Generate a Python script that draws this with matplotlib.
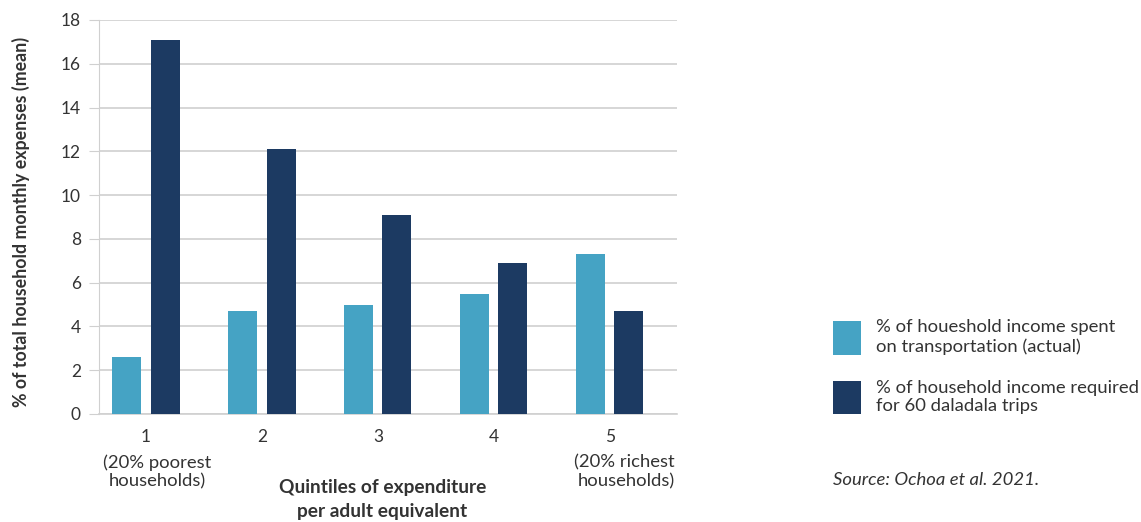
import numpy as np
import matplotlib.pyplot as plt
from matplotlib.patches import Patch

plt.rcParams["font.family"] = ["Lato", "DejaVu Sans"]

# Data
quintiles = ["1", "2", "3", "4", "5"]
actual_share = [2.6, 4.7, 5.0, 5.5, 7.3]
required_share = [17.1, 12.1, 9.1, 6.9, 4.7]
series_labels = [
    "% of houeshold income spent\non transportation (actual)",
    "% of household income required\nfor 60 daladala trips",
]

light = "#45a3c4"
dark = "#1c3a62"
text_color = "#333333"
grid_color = "#d0d0d0"

fig = plt.figure(figsize=(11.41, 5.22), dpi=100)
ax = fig.add_axes([0.0868, 0.2069, 0.5065, 0.7548])

x = np.arange(1, len(quintiles) + 1)
w = 0.25
ax.bar(x - 0.164, actual_share, width=w, color=light, zorder=3)
ax.bar(x + 0.164, required_share, width=w, color=dark, zorder=3)

ax.set_xlim(0.595, 5.578)
ax.set_ylim(0, 18)
ax.set_yticks(range(0, 19, 2))
ax.set_xticks(x)
ax.set_xticklabels(quintiles)
ax.yaxis.grid(True, color=grid_color, linewidth=1.2)
ax.set_axisbelow(True)

for side in ["top", "right"]:
    ax.spines[side].set_visible(False)
ax.spines["left"].set_color(grid_color)
ax.spines["bottom"].set_color(grid_color)
ax.spines["bottom"].set_linewidth(1.2)
ax.tick_params(axis="y", colors=grid_color, length=7, labelcolor=text_color,
               labelsize=12.5, pad=6)
ax.tick_params(axis="x", length=0, labelcolor=text_color, labelsize=12.5, pad=11)

# extra lines under the end quintiles
tr = ax.get_xaxis_transform()
ax.text(1.10, -0.103, "(20% poorest\nhouseholds)", transform=tr, ha="center",
        va="top", fontsize=13.3, color=text_color, linespacing=1.2)
ax.text(5.56, -0.103, "(20% richest\nhouseholds)", transform=tr, ha="right",
        va="top", fontsize=13.3, color=text_color, linespacing=1.2)

ax.set_xlabel("Quintiles of expenditure\nper adult equivalent", fontsize=13.8,
              fontweight="bold", color=text_color, linespacing=1.5)
ax.xaxis.set_label_coords(0.49, -0.166)
ax.xaxis.label.set_va("top")
ax.set_ylabel("% of total household monthly expenses (mean)", fontsize=12.8,
              fontweight="bold", color=text_color)
ax.yaxis.set_label_coords(-0.12, 0.487)

handles = [Patch(facecolor=light), Patch(facecolor=dark)]
leg = fig.legend(handles, series_labels, loc="upper left",
                 bbox_to_anchor=(0.730, 0.388), frameon=False, fontsize=13.3,
                 handlelength=1.51, handleheight=2.4, handletextpad=0.8,
                 labelspacing=1.35, labelcolor=text_color, borderaxespad=0,
                 borderpad=0)
for t in leg.get_texts():
    t.set_linespacing(1.2)

fig.text(0.730, 0.071, "Source: Ochoa et al. 2021.", fontsize=13.3,
         style="italic", color=text_color)

fig.savefig("out.png", dpi=100)
